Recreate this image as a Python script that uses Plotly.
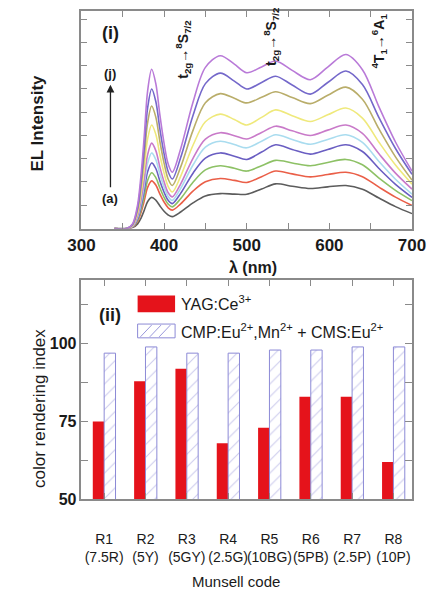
import plotly.graph_objects as go

# ---------------- data ----------------
wavelength = [340, 355, 362, 368, 372, 376, 380, 385, 390, 395, 400, 405, 410, 420,
              435, 450, 468, 485, 500, 518, 535, 555, 577, 598, 620, 640, 660, 680, 700]

el_a = [0, 0, 0.04, 0.20, 0.44, 0.78, 1.15, 1.34, 1.22, 0.97, 0.74, 0.58, 0.51, 0.71,
        1.10, 1.40, 1.50, 1.48, 1.47, 1.70, 1.92, 1.82, 1.72, 1.79, 1.85, 1.69, 1.31, 0.94, 0.64]
el_b = [0, 0, 0.06, 0.31, 0.68, 1.19, 1.76, 2.05, 1.87, 1.48, 1.14, 0.89, 0.79, 1.06,
        1.61, 2.01, 2.15, 2.07, 1.98, 2.23, 2.47, 2.35, 2.22, 2.32, 2.42, 2.23, 1.78, 1.35, 0.99]
el_c = [0, 0, 0.07, 0.36, 0.79, 1.39, 2.06, 2.40, 2.19, 1.74, 1.34, 1.05, 0.93, 1.28,
        1.99, 2.52, 2.70, 2.59, 2.47, 2.70, 2.93, 2.82, 2.70, 2.84, 2.97, 2.74, 2.17, 1.64, 1.20]
el_d = [0, 0, 0.08, 0.42, 0.93, 1.64, 2.43, 2.82, 2.58, 2.03, 1.56, 1.21, 1.07, 1.51,
        2.38, 3.03, 3.25, 3.11, 2.97, 3.29, 3.60, 3.40, 3.20, 3.40, 3.60, 3.31, 2.58, 1.90, 1.34]
el_e = [0, 0, 0.10, 0.49, 1.07, 1.89, 2.80, 3.25, 2.96, 2.33, 1.78, 1.37, 1.21, 1.72,
        2.73, 3.50, 3.75, 3.61, 3.47, 3.75, 4.03, 3.83, 3.62, 3.83, 4.03, 3.70, 2.88, 2.12, 1.48]
el_f = [0, 0, 0.11, 0.55, 1.21, 2.13, 3.16, 3.67, 3.35, 2.63, 2.01, 1.54, 1.36, 1.91,
        3.02, 3.84, 4.12, 3.99, 3.85, 4.13, 4.40, 4.20, 4.00, 4.23, 4.45, 4.09, 3.21, 2.38, 1.69]
el_g = [0, 0, 0.13, 0.67, 1.47, 2.58, 3.83, 4.45, 4.05, 3.15, 2.38, 1.80, 1.57, 2.24,
        3.58, 4.59, 4.92, 4.69, 4.45, 4.78, 5.10, 4.85, 4.60, 4.89, 5.18, 4.75, 3.71, 2.73, 1.91]
el_h = [0, 0, 0.16, 0.79, 1.74, 3.06, 4.53, 5.27, 4.79, 3.73, 2.81, 2.12, 1.85, 2.64,
        4.22, 5.41, 5.80, 5.60, 5.40, 5.64, 5.88, 5.63, 5.37, 5.73, 6.08, 5.56, 4.28, 3.08, 2.08]
el_i = [0, 0, 0.18, 0.90, 1.98, 3.48, 5.16, 6.00, 5.46, 4.26, 3.21, 2.44, 2.13, 3.04,
        4.86, 6.23, 6.68, 6.34, 6.00, 6.28, 6.55, 6.17, 5.78, 6.28, 6.77, 6.19, 4.77, 3.44, 2.33]
el_j = [0, 0, 0.21, 1.03, 2.26, 3.97, 5.89, 6.85, 6.23, 4.86, 3.66, 2.77, 2.42, 3.42,
        5.43, 6.93, 7.43, 7.07, 6.70, 6.95, 7.20, 6.80, 6.40, 6.94, 7.48, 6.83, 5.23, 3.72, 2.47]

spectra = [el_a, el_b, el_c, el_d, el_e, el_f, el_g, el_h, el_i, el_j]
spectrum_names = ["(a)", "(b)", "(c)", "(d)", "(e)", "(f)", "(g)", "(h)", "(i)", "(j)"]
spectrum_colors = ["#5c5c5c", "#ea5f48", "#8dc165", "#6a5ec2", "#a9dcef",
                   "#c97ac9", "#efe97c", "#b9ad6a", "#7468ca", "#b97ad8"]

x_ticks_top = [300, 350, 400, 450, 500, 550, 600, 650, 700]
x_labels_top = ["300", "", "400", "", "500", "", "600", "", "700"]

cri_codes = ["R1<br>(7.5R)", "R2<br>(5Y)", "R3<br>(5GY)", "R4<br>(2.5G)",
             "R5<br>(10BG)", "R6<br>(5PB)", "R7<br>(2.5P)", "R8<br>(10P)"]
cri_yag = [75, 88, 92, 68, 73, 83, 83, 62]
cri_cmp = [97, 99, 97, 97, 98, 98, 99, 99]
y_ticks_bottom = [50, 62.5, 75, 87.5, 100, 112.5]
y_labels_bottom = ["50", "", "75", "", "100", ""]

# ---------------- helpers ----------------
W, H = 441, 598


def px(x):
    return x / W


def py(y):
    return 1 - y / H


FONT = "Liberation Sans, Arial, sans-serif"
FRAME = "#8a8a8a"

fig = go.Figure()

# ---------------- panel (i): EL spectra ----------------
for vals, name, col in zip(spectra, spectrum_names, spectrum_colors):
    fig.add_trace(go.Scatter(
        x=wavelength, y=vals, mode="lines", name=name,
        line=dict(color=col, width=1.6, shape="spline", smoothing=0.9),
        xaxis="x", yaxis="y", showlegend=False))

# ---------------- panel (ii): colour rendering index bars ----------------
cat_pos = list(range(len(cri_codes)))
fig.add_trace(go.Bar(
    x=cat_pos, y=cri_yag, name="YAG:Ce<sup>3+</sup>",
    marker=dict(color="#e5131b", line=dict(width=0)),
    xaxis="x2", yaxis="y2", showlegend=False))
fig.add_trace(go.Bar(
    x=cat_pos, y=cri_cmp, name="CMP:Eu<sup>2+</sup>,Mn<sup>2+</sup> + CMS:Eu<sup>2+</sup>",
    marker=dict(color="white",
                line=dict(color="#8c8ad6", width=1),
                pattern=dict(shape="/", fgcolor="#9a98dc", bgcolor="white",
                             size=9, solidity=0.12)),
    xaxis="x2", yaxis="y2", showlegend=False))

axis_common = dict(showline=True, linecolor=FRAME, linewidth=1.5, mirror="ticks",
                   ticks="inside", tickcolor=FRAME, tickwidth=1.3, showgrid=False,
                   zeroline=False)

fig.update_layout(
    width=W, height=H,
    margin=dict(l=0, r=0, t=0, b=0),
    paper_bgcolor="white", plot_bgcolor="white",
    font=dict(family=FONT, color="#1a1a1a"),
    barmode="group", bargap=0.45, bargroupgap=0,
    xaxis=dict(domain=[px(72), px(425)], anchor="y", range=[300, 700],
               tickvals=x_ticks_top, ticktext=x_labels_top, ticklen=6,
               tickfont=dict(size=17, weight="bold"), tickangle=0,
               **axis_common),
    yaxis=dict(domain=[py(232), py(11)], anchor="x", range=[0, 9.36],
               tickvals=[1, 2, 3, 4, 5, 6, 7, 8, 9], showticklabels=False, ticklen=6,
               **axis_common),
    xaxis2=dict(domain=[px(72), px(425)], anchor="y2", range=[-0.55, 7.45],
                tickvals=cat_pos, ticktext=cri_codes, ticklen=7, ticklabelstandoff=26,
                tickfont=dict(size=14), tickangle=0,
                **axis_common),
    yaxis2=dict(domain=[py(507), py(284)], anchor="x2", range=[50, 120.6],
                tickvals=y_ticks_bottom, ticktext=y_labels_bottom, ticklen=7,
                tickfont=dict(size=16, weight="bold"),
                **axis_common),
)

annotations = []
shapes = []


def label(x, y, text, size, bold=False, angle=0, xanchor="center"):
    annotations.append(dict(
        x=px(x), y=py(y), xref="paper", yref="paper", text=text,
        xanchor=xanchor, yanchor="middle", textangle=angle, showarrow=False,
        font=dict(size=size, weight="bold" if bold else "normal")))


# axis titles
label(255, 272, "λ (nm)", 16, bold=True)
label(25, 125, "EL Intensity", 17, bold=True, angle=-90)
label(28, 415, "color rendering index", 17, angle=-90)
label(237, 590, "Munsell code", 15)

# panel labels
label(103, 33, "(i)", 18, bold=True)
label(103, 320, "(ii)", 18, bold=True)

# series order arrow
label(103, 75, "(j)", 13, bold=True)
label(103, 202, "(a)", 13, bold=True)
annotations.append(dict(x=px(103), y=py(86), xref="paper", yref="paper", text="",
                        showarrow=True, ax=0, ay=104, axref="pixel", ayref="pixel",
                        arrowhead=2, arrowsize=1.2, arrowwidth=1.3, arrowcolor="#222"))

# transition labels (rotated, read bottom to top)
label(181, 50, "t<sub>2g</sub>→<sup>8</sup>S<sub>7/2</sub>", 14, bold=True, angle=-90)
label(275, 37, "t<sub>2g</sub>→<sup>8</sup>S<sub>7/2</sub>", 14, bold=True, angle=-90)
label(390, 42, "<sup>4</sup>T<sub>1</sub>→<sup>6</sup>A<sub>1</sub>", 14, bold=True, angle=-90)

# legend for panel (ii)
shapes.append(dict(type="rect", xref="paper", yref="paper",
                   x0=px(132), x1=px(172), y0=py(317), y1=py(300),
                   fillcolor="#e5131b", line=dict(width=0)))
shapes.append(dict(type="rect", xref="paper", yref="paper",
                   x0=px(132), x1=px(172), y0=py(343), y1=py(329),
                   fillcolor="white", line=dict(color="#8c8ad6", width=1)))
for off in (3, 13, 23):
    shapes.append(dict(type="line", xref="paper", yref="paper",
                       x0=px(132 + off), y0=py(342), x1=px(132 + off + 12), y1=py(330),
                       line=dict(color="#9a98dc", width=1)))
label(176, 308, "YAG:Ce<sup>3+</sup>", 16, xanchor="left")
label(176, 336, "CMP:Eu<sup>2+</sup>,Mn<sup>2+</sup> + CMS:Eu<sup>2+</sup>", 16, xanchor="left")

fig.update_layout(annotations=annotations, shapes=shapes)

fig.write_html("out.html")
